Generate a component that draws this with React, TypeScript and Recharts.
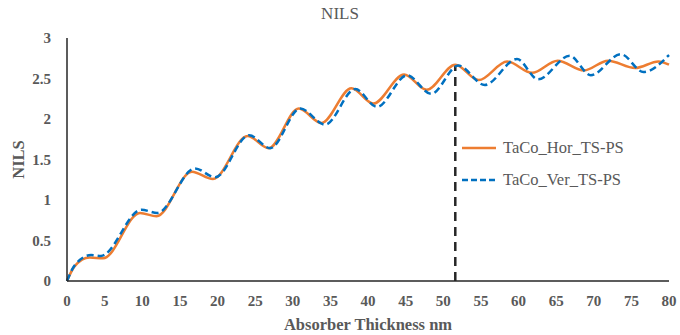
import React from 'react'
import { Line, LineChart, ReferenceLine, XAxis, YAxis } from 'recharts'

const ORANGE = '#ED7D31'
const BLUE = '#0070C0'
const GREY = '#595959'
const FONT = 'Liberation Serif'

// TaCo horizontal lines, NILS against absorber thickness (nm)
const horThickness = [0, 1, 3, 4.8, 9.7, 11.9, 16.6, 19.4, 24, 26.8, 30.8, 33.8, 37.8, 40.7, 44.8, 47.8, 51.6, 54.7, 58.5, 61.8, 65.2, 68.7, 71.9, 75.5, 78.6, 80]
const horNils = [0, 0.18, 0.29, 0.28, 0.84, 0.8, 1.35, 1.26, 1.79, 1.64, 2.13, 1.95, 2.38, 2.19, 2.55, 2.36, 2.67, 2.48, 2.71, 2.57, 2.72, 2.6, 2.72, 2.63, 2.71, 2.67]

// TaCo vertical lines
const verThickness = [0, 1, 3.2, 4.5, 9.9, 12, 17, 19.7, 24.2, 27, 31, 34.3, 38.3, 41.2, 45.2, 48.4, 52, 55.5, 59.8, 62.6, 66.8, 69.6, 73.6, 76.6, 80]
const verNils = [0, 0.19, 0.32, 0.31, 0.88, 0.84, 1.39, 1.28, 1.8, 1.64, 2.13, 1.93, 2.37, 2.15, 2.54, 2.31, 2.66, 2.42, 2.74, 2.49, 2.78, 2.54, 2.8, 2.58, 2.79]

const xTicks = [0, 5, 10, 15, 20, 25, 30, 35, 40, 45, 50, 55, 60, 65, 70, 75, 80]
const yTicks = [0, 0.5, 1, 1.5, 2, 2.5, 3]

// marker at the first NILS maximum of the horizontal series
const markerThickness = 51.6
const markerNils = 2.67

const horData = horThickness.map((x, i) => ({ x, y: horNils[i] }))
const verData = verThickness.map((x, i) => ({ x, y: verNils[i] }))

const tickStyle = { fontSize: 15, fontWeight: 700, fill: GREY, fontFamily: FONT }

function YTitle({ viewBox }: { viewBox?: { x: number; y: number; width: number; height: number } }) {
  if (!viewBox) return null
  const cx = 18
  const cy = viewBox.y + viewBox.height / 2
  return (
    <text
      x={cx}
      y={cy}
      transform={`rotate(-90 ${cx} ${cy})`}
      textAnchor="middle"
      dominantBaseline="central"
      fontSize={16.5}
      fontWeight={700}
      fill={GREY}
      fontFamily={FONT}
    >
      NILS
    </text>
  )
}

function LegendRow({ color, dash, label }: { color: string; dash?: string; label: string }) {
  return (
    <div style={{ display: 'flex', alignItems: 'center', height: 32 }}>
      <svg width={38} height={10}>
        <line x1={1} y1={5} x2={35} y2={5} stroke={color} strokeWidth={2.5} strokeDasharray={dash} />
      </svg>
      <span style={{ marginLeft: 4, fontSize: 16.5, color: GREY, fontFamily: FONT }}>{label}</span>
    </div>
  )
}

export default function App() {
  return (
    <div style={{ position: 'absolute', left: 0, top: 0, width: 680, height: 335, background: '#fff' }}>
      <div
        style={{
          position: 'absolute',
          left: 0,
          top: 4,
          width: 680,
          textAlign: 'center',
          fontSize: 17,
          color: GREY,
          fontFamily: FONT,
        }}
      >
        NILS
      </div>
      <LineChart width={680} height={335} margin={{ top: 38, right: 11, bottom: 0, left: 0 }}>
        <XAxis
          type="number"
          dataKey="x"
          domain={[0, 80]}
          ticks={xTicks}
          interval={0}
          tickLine={false}
          axisLine={{ stroke: '#262626', strokeWidth: 1.5 }}
          tick={tickStyle}
          tickMargin={8}
          height={54}
          label={{
            value: 'Absorber Thickness nm',
            position: 'insideBottom',
            offset: 5,
            style: { fontSize: 16.5, fontWeight: 700, fill: GREY, fontFamily: FONT },
          }}
        />
        <YAxis
          type="number"
          dataKey="y"
          domain={[0, 3]}
          ticks={yTicks}
          interval={0}
          tickLine={false}
          axisLine={{ stroke: '#262626', strokeWidth: 1.5 }}
          tick={tickStyle}
          tickMargin={10}
          width={67}
          label={<YTitle />}
        />
        <ReferenceLine
          segment={[
            { x: markerThickness, y: 0 },
            { x: markerThickness, y: markerNils },
          ]}
          stroke="#262626"
          strokeWidth={2.5}
          strokeDasharray="9 6"
        />
        <Line
          data={horData}
          dataKey="y"
          type="monotone"
          stroke={ORANGE}
          strokeWidth={2.5}
          dot={false}
          isAnimationActive={false}
        />
        <Line
          data={verData}
          dataKey="y"
          type="monotone"
          stroke={BLUE}
          strokeWidth={2.5}
          strokeDasharray="7 4"
          dot={false}
          isAnimationActive={false}
        />
      </LineChart>
      <div style={{ position: 'absolute', left: 461, top: 132 }}>
        <LegendRow color={ORANGE} label="TaCo_Hor_TS-PS" />
        <LegendRow color={BLUE} dash="6 3" label="TaCo_Ver_TS-PS" />
      </div>
    </div>
  )
}
